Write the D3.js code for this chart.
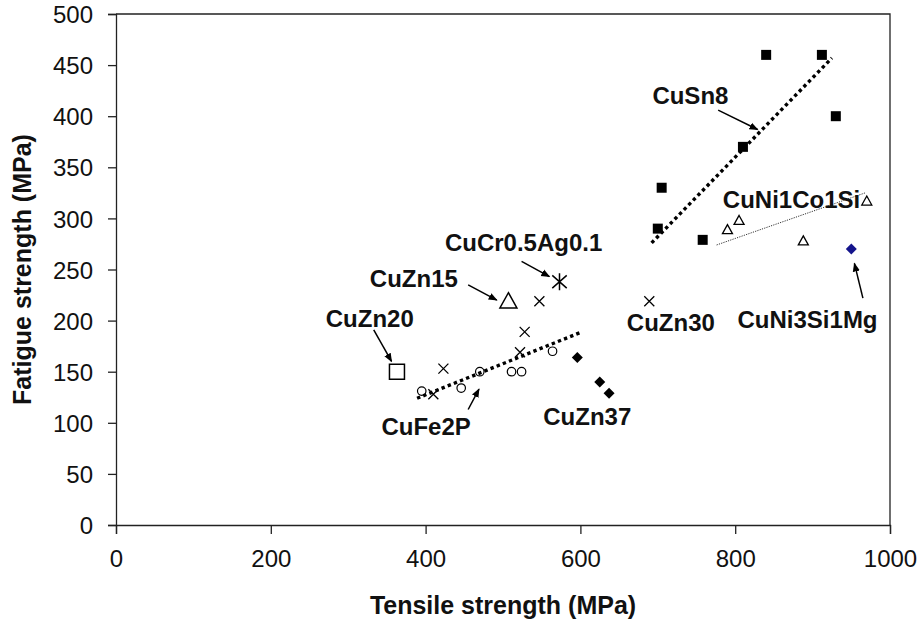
<!DOCTYPE html>
<html>
<head>
<meta charset="utf-8">
<script src="https://cdn.jsdelivr.net/npm/d3@7"></script>
<style>
  html, body { margin: 0; padding: 0; background: #fff; }
  svg { display: block; font-family: "Liberation Sans", Arial, sans-serif; }
</style>
</head>
<body>
<svg id="chart" width="924" height="626"></svg>
<script>
// Tensile strength (MPa) and fatigue strength (MPa) per copper alloy
const cuSn8Tensile = [840, 912, 930, 810, 705, 700, 758];
const cuSn8Fatigue = [460, 460, 400, 370, 330, 290, 279];

const cuNi1Co1SiTensile = [790, 805, 888, 970];
const cuNi1Co1SiFatigue = [289, 298, 278, 317];

const cuNi3Si1MgTensile = [950];
const cuNi3Si1MgFatigue = [270];

const cuZn30Tensile = [410, 423, 522, 528, 547, 689];
const cuZn30Fatigue = [128, 153, 169, 189, 219, 219];

const cuFe2PTensile = [395, 446, 470, 511, 524, 564];
const cuFe2PFatigue = [131, 134, 150, 150, 150, 170];

const cuZn37Tensile = [596, 625, 637];
const cuZn37Fatigue = [164, 140, 129];

const cuZn20Tensile = [363];
const cuZn20Fatigue = [150];

const cuZn15Tensile = [507];
const cuZn15Fatigue = [219];

const cuCrAgTensile = [573];
const cuCrAgFatigue = [238];

// Trend lines: [start, end] in (tensile, fatigue)
const cuSn8TrendTensile = [692, 925];
const cuSn8TrendFatigue = [276, 457];
const cuFe2PTrendTensile = [389, 602];
const cuFe2PTrendFatigue = [124, 189];
const cuNi1Co1SiTrendTensile = [776, 968];
const cuNi1Co1SiTrendFatigue = [274, 325];

// Axis ticks
const xTicks = [0, 200, 400, 600, 800, 1000];
const yTicks = [0, 50, 100, 150, 200, 250, 300, 350, 400, 450, 500];

const svg = d3.select("#chart");
const x = d3.scaleLinear().domain([0, 1000]).range([116, 890]);
const y = d3.scaleLinear().domain([0, 500]).range([525, 14]);

// Arrow head marker
svg.append("defs").append("marker")
  .attr("id", "arrowHead")
  .attr("viewBox", "0 0 10 10")
  .attr("refX", 9).attr("refY", 5)
  .attr("markerWidth", 6).attr("markerHeight", 6)
  .attr("markerUnits", "strokeWidth")
  .attr("orient", "auto")
  .append("path").attr("d", "M0,1 L10,5 L0,9 Z").attr("fill", "#000");

// Plot frame (top and right)
svg.append("path")
  .attr("d", `M${x(0)},${y(500)} H${x(1000)} V${y(0)}`)
  .attr("fill", "none").attr("stroke", "#222").attr("stroke-width", 1.3);

// Axes
const xAxis = d3.axisBottom(x).tickValues(xTicks).tickSize(9).tickPadding(16).tickFormat(d3.format("d"));
const yAxis = d3.axisLeft(y).tickValues(yTicks).tickSize(8).tickPadding(15).tickFormat(d3.format("d"));

const gx = svg.append("g").attr("transform", `translate(0,${y(0)})`).call(xAxis);
const gy = svg.append("g").attr("transform", `translate(${x(0)},0)`).call(yAxis);
[gx, gy].forEach(g => {
  g.select(".domain").attr("stroke", "#222").attr("stroke-width", 1.3);
  g.selectAll(".tick line").attr("stroke", "#222").attr("stroke-width", 1.3);
  g.selectAll(".tick text").attr("fill", "#111").style("font-size", "24px")
    .style("font-family", "'Liberation Sans', Arial, sans-serif");
});
gy.selectAll(".tick text").attr("dy", "0.36em");

// Axis titles
svg.append("text")
  .attr("x", (x(0) + x(1000)) / 2).attr("y", 614)
  .attr("text-anchor", "middle")
  .style("font-size", "25px").style("font-weight", "bold")
  .attr("fill", "#111")
  .text("Tensile strength (MPa)");
svg.append("text")
  .attr("transform", `translate(31,${(y(0) + y(500)) / 2}) rotate(-90)`)
  .attr("text-anchor", "middle")
  .style("font-size", "25px").style("font-weight", "bold")
  .attr("fill", "#111")
  .text("Fatigue strength (MPa)");

// Trend lines
const trends = [
  { xs: cuSn8TrendTensile, ys: cuSn8TrendFatigue, width: 3.4, dash: "3.4,3.2", color: "#000" },
  { xs: cuFe2PTrendTensile, ys: cuFe2PTrendFatigue, width: 3.4, dash: "3.4,3.2", color: "#000" },
  { xs: cuNi1Co1SiTrendTensile, ys: cuNi1Co1SiTrendFatigue, width: 1, dash: "1.2,1.2", color: "#333" }
];
const line = d3.line().x(d => x(d[0])).y(d => y(d[1]));
trends.forEach(t => {
  svg.append("path")
    .attr("d", line(d3.zip(t.xs, t.ys)))
    .attr("fill", "none").attr("stroke", t.color)
    .attr("stroke-width", t.width).attr("stroke-dasharray", t.dash);
});

// Marker shapes
function markerPath(type, s) {
  const h = s / 2;
  switch (type) {
    case "square":
      return `M${-h},${-h}H${h}V${h}H${-h}Z`;
    case "triangle":
      return `M0,${-h}L${h},${h * 0.8}L${-h},${h * 0.8}Z`;
    case "diamond":
      return `M0,${-h}L${h},0L0,${h}L${-h},0Z`;
    case "cross":
      return `M${-h},${-h}L${h},${h}M${-h},${h}L${h},${-h}`;
    case "asterisk":
      return `M0,${-h}V${h}M${-h * 0.85},${-h * 0.75}L${h * 0.85},${h * 0.75}M${-h * 0.85},${h * 0.75}L${h * 0.85},${-h * 0.75}`;
    case "circle":
      return d3.arc()({ innerRadius: 0, outerRadius: h, startAngle: 0, endAngle: 2 * Math.PI });
  }
}

const series = [
  { xs: cuSn8Tensile, ys: cuSn8Fatigue, type: "square", size: 10, fill: "#000", stroke: "none", sw: 0 },
  { xs: cuNi1Co1SiTensile, ys: cuNi1Co1SiFatigue, type: "triangle", size: 10, fill: "#fff", stroke: "#000", sw: 1.3 },
  { xs: cuNi3Si1MgTensile, ys: cuNi3Si1MgFatigue, type: "diamond", size: 11, fill: "#14148c", stroke: "none", sw: 0 },
  { xs: cuZn30Tensile, ys: cuZn30Fatigue, type: "cross", size: 10, fill: "none", stroke: "#000", sw: 1.3 },
  { xs: cuFe2PTensile, ys: cuFe2PFatigue, type: "circle", size: 8.5, fill: "none", stroke: "#000", sw: 1.2 },
  { xs: cuZn37Tensile, ys: cuZn37Fatigue, type: "diamond", size: 11, fill: "#000", stroke: "none", sw: 0 },
  { xs: cuZn20Tensile, ys: cuZn20Fatigue, type: "square", size: 15, fill: "#fff", stroke: "#000", sw: 1.5 },
  { xs: cuZn15Tensile, ys: cuZn15Fatigue, type: "triangle", size: 17, fill: "#fff", stroke: "#000", sw: 1.5 },
  { xs: cuCrAgTensile, ys: cuCrAgFatigue, type: "asterisk", size: 17, fill: "none", stroke: "#000", sw: 1.5 }
];
series.forEach(s => {
  svg.append("g").selectAll("path")
    .data(d3.zip(s.xs, s.ys))
    .join("path")
    .attr("transform", d => `translate(${x(d[0])},${y(d[1])})`)
    .attr("d", markerPath(s.type, s.size))
    .attr("fill", s.fill).attr("stroke", s.stroke).attr("stroke-width", s.sw);
});

// Callout labels (text anchor point and optional arrow, in data units)
const callouts = [
  { text: "CuSn8", tx: 693, ty: 412, arrow: [[778, 406], [829, 387]] },
  { text: "CuNi1Co1Si", tx: 784, ty: 310, arrow: null },
  { text: "CuNi3Si1Mg", tx: 803, ty: 193, arrow: [[965, 222], [954, 256]] },
  { text: "CuZn30", tx: 660, ty: 190, arrow: null },
  { text: "CuCr0.5Ag0.1", tx: 425, ty: 268, arrow: [[524, 258], [560, 243]] },
  { text: "CuZn15", tx: 328, ty: 233, arrow: [[455, 235], [492, 220]] },
  { text: "CuZn20", tx: 271, ty: 194, arrow: [[333, 191], [356, 160]] },
  { text: "CuFe2P", tx: 343, ty: 88, arrow: [[455, 113], [469, 133]] },
  { text: "CuZn37", tx: 552, ty: 98, arrow: null }
];
callouts.forEach(c => {
  svg.append("text")
    .attr("x", x(c.tx)).attr("y", y(c.ty))
    .style("font-size", "24px").style("font-weight", "bold")
    .attr("fill", "#111")
    .text(c.text);
  if (c.arrow) {
    svg.append("line")
      .attr("x1", x(c.arrow[0][0])).attr("y1", y(c.arrow[0][1]))
      .attr("x2", x(c.arrow[1][0])).attr("y2", y(c.arrow[1][1]))
      .attr("stroke", "#000").attr("stroke-width", 1.5)
      .attr("marker-end", "url(#arrowHead)");
  }
});
</script>
</body>
</html>
